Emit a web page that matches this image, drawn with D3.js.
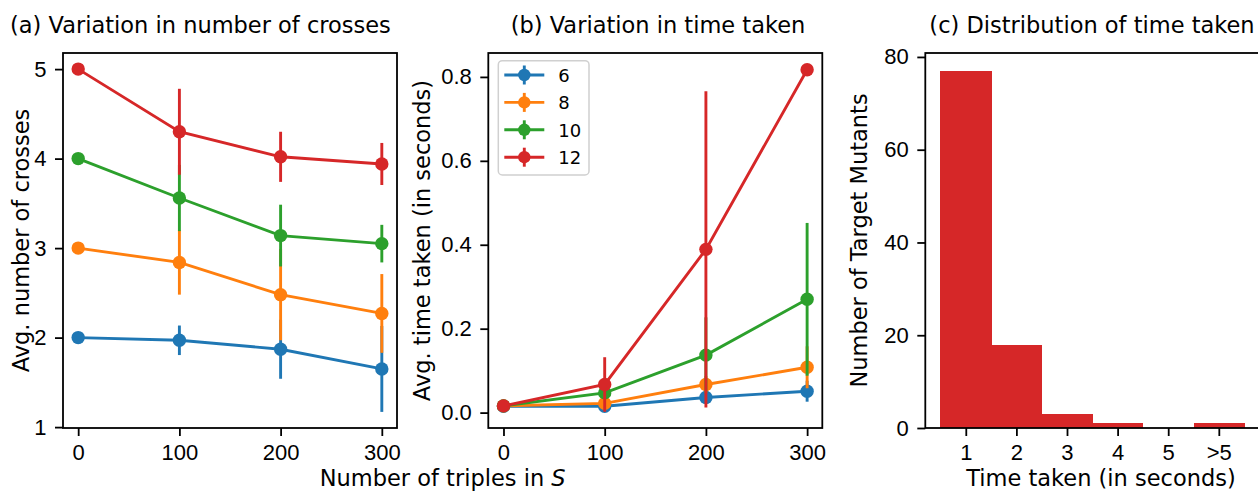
<!DOCTYPE html>
<html>
<head>
<meta charset="utf-8">
<script src="https://cdn.jsdelivr.net/npm/d3@7"></script>
<style>
  body { margin: 0; background: #fff; }
  svg { display: block; font-family: "DejaVu Sans", sans-serif; }
  .axis text { font-size: 22px; fill: #000; }
  .axis line { stroke: #000; stroke-width: 1.8; }
  .axis path { display: none; }
  .title, .label { font-size: 22.5px; fill: #000; }
  .legend text { font-size: 18px; fill: #000; }
</style>
</head>
<body>
<div id="chart"></div>
<script>
const triples = [0, 100, 200, 300];
const sizes = ['6', '8', '10', '12'];
const colors = ['#1f77b4', '#ff7f0e', '#2ca02c', '#d62728'];

// (a) avg number of crosses, one array per size
const crosses6 = [2.0, 1.97, 1.87, 1.65];
const crosses8 = [3.0, 2.84, 2.48, 2.27];
const crosses10 = [4.0, 3.56, 3.14, 3.05];
const crosses12 = [5.0, 4.30, 4.02, 3.94];
const crossesErr6 = [0, 0.165, 0.33, 0.48];
const crossesErr8 = [0, 0.36, 0.51, 0.44];
const crossesErr10 = [0, 0.37, 0.345, 0.21];
const crossesErr12 = [0, 0.48, 0.28, 0.235];

// (b) avg time taken (seconds)
const time6 = [0.015, 0.015, 0.036, 0.051];
const time8 = [0.016, 0.022, 0.067, 0.108];
const time10 = [0.016, 0.047, 0.137, 0.270];
const time12 = [0.016, 0.067, 0.389, 0.817];
const timeErr6 = [0, 0.004, 0.01, 0.025];
const timeErr8 = [0, 0.004, 0.02, 0.05];
const timeErr10 = [0, 0.01, 0.09, 0.182];
const timeErr12 = [0, 0.065, 0.377, 0];

// (c) histogram
const timeBins = ['1', '2', '3', '4', '5', '>5'];
const mutantCounts = [77, 18, 3, 1, 0, 1];

const crossesTicks = [1, 2, 3, 4, 5];
const timeTicks = [0, 0.2, 0.4, 0.6, 0.8];
const countTicks = [0, 20, 40, 60, 80];

const svgWidth = 1258;
const svgHeight = 491;
const plotTop = 53;
const plotBottom = 428;
const panelW = 334;
const lefts = [63, 488.3, 925.3];
const tickLen = 8;
const lw = 2.9;

const svg = d3.select('#chart').append('svg')
  .attr('width', svgWidth)
  .attr('height', svgHeight);

function frame(x0) {
  svg.append('rect')
    .attr('x', x0)
    .attr('y', plotTop)
    .attr('width', panelW)
    .attr('height', plotBottom - plotTop)
    .attr('fill', 'none')
    .attr('stroke', '#000')
    .attr('stroke-width', 1.8);
}

function axes(xScale, yScale, x0, yTicks, yFormat) {
  svg.append('g')
    .attr('class', 'axis')
    .attr('transform', `translate(0, ${plotBottom})`)
    .call(d3.axisBottom(xScale).tickValues(triples).tickSize(tickLen).tickPadding(8));

  svg.append('g')
    .attr('class', 'axis')
    .attr('transform', `translate(${x0}, 0)`)
    .call(d3.axisLeft(yScale).tickValues(yTicks).tickFormat(yFormat).tickSize(tickLen).tickPadding(8.5));
}

function errorLines(xScale, yScale, means, errs) {
  const line = d3.line()
    .x((d, i) => xScale(triples[i]))
    .y((d) => yScale(d));

  means.forEach((vals, s) => {
    const g = svg.append('g');
    g.selectAll('line')
      .data(vals)
      .enter().append('line')
      .attr('x1', (d, i) => xScale(triples[i]))
      .attr('x2', (d, i) => xScale(triples[i]))
      .attr('y1', (d, i) => yScale(d - errs[s][i]))
      .attr('y2', (d, i) => yScale(d + errs[s][i]))
      .attr('stroke', colors[s])
      .attr('stroke-width', lw);

    g.append('path')
      .datum(vals)
      .attr('d', line)
      .attr('fill', 'none')
      .attr('stroke', colors[s])
      .attr('stroke-width', lw);

    g.selectAll('circle')
      .data(vals)
      .enter().append('circle')
      .attr('cx', (d, i) => xScale(triples[i]))
      .attr('cy', (d) => yScale(d))
      .attr('r', 6.7)
      .attr('fill', colors[s]);
  });
}

function yLabel(x, text) {
  svg.append('text')
    .attr('class', 'label')
    .attr('text-anchor', 'middle')
    .attr('transform', `translate(${x}, ${(plotTop + plotBottom) / 2}) rotate(-90)`)
    .text(text);
}

function title(x, anchor, text) {
  svg.append('text')
    .attr('class', 'title')
    .attr('x', x)
    .attr('y', 33)
    .attr('text-anchor', anchor)
    .text(text);
}

// (a)
const xA = d3.scaleLinear().domain([-15, 315]).range([lefts[0], lefts[0] + panelW]);
const yA = d3.scaleLinear().domain([0.99, 5.18]).range([plotBottom, plotTop]);
errorLines(xA, yA,
  [crosses6, crosses8, crosses10, crosses12],
  [crossesErr6, crossesErr8, crossesErr10, crossesErr12]);
axes(xA, yA, lefts[0], crossesTicks, d3.format('d'));
frame(lefts[0]);
yLabel(29.3, 'Avg. number of crosses');
title(10, 'start', '(a) Variation in number of crosses');

// (b)
const xB = d3.scaleLinear().domain([-15, 315]).range([lefts[1], lefts[1] + panelW]);
const yB = d3.scaleLinear().domain([-0.0367, 0.857]).range([plotBottom, plotTop]);
errorLines(xB, yB,
  [time6, time8, time10, time12],
  [timeErr6, timeErr8, timeErr10, timeErr12]);
axes(xB, yB, lefts[1], timeTicks, d3.format('.1f'));
frame(lefts[1]);
yLabel(430, 'Avg. time taken (in seconds)');
title(658, 'middle', '(b) Variation in time taken');

// legend
const legend = svg.append('g').attr('class', 'legend');
legend.append('rect')
  .attr('x', 498.3)
  .attr('y', 60.7)
  .attr('width', 90.7)
  .attr('height', 114.3)
  .attr('rx', 4)
  .attr('fill', '#fff')
  .attr('fill-opacity', 0.8)
  .attr('stroke', '#d0d0d0')
  .attr('stroke-width', 1.5);

sizes.forEach((s, i) => {
  const cy = 75 + i * 27.4;
  const row = legend.append('g');
  row.append('line')
    .attr('x1', 504.3).attr('x2', 544.3)
    .attr('y1', cy).attr('y2', cy)
    .attr('stroke', colors[i]).attr('stroke-width', lw);
  row.append('line')
    .attr('x1', 524.3).attr('x2', 524.3)
    .attr('y1', cy - 9.5).attr('y2', cy + 9.5)
    .attr('stroke', colors[i]).attr('stroke-width', lw);
  row.append('circle')
    .attr('cx', 524.3).attr('cy', cy).attr('r', 6.2)
    .attr('fill', colors[i]);
  row.append('text')
    .attr('x', 558.3)
    .attr('y', cy + 6.7)
    .text(s);
});

// shared x label for (a) and (b)
svg.append('text')
  .attr('class', 'label')
  .attr('x', (lefts[0] + lefts[1] + panelW) / 2)
  .attr('y', 485.5)
  .attr('text-anchor', 'middle')
  .html('Number of triples in <tspan font-style="italic">S</tspan>');

// (c)
const xC = d3.scaleLinear().domain([0.2, 6.8]).range([lefts[2], lefts[2] + panelW]);
const yC = d3.scaleLinear().domain([0, 80.85]).range([plotBottom, plotTop]);

svg.append('g')
  .attr('shape-rendering', 'crispEdges')
  .selectAll('rect')
  .data(mutantCounts)
  .enter().append('rect')
  .attr('x', (d, i) => xC(i + 0.5))
  .attr('y', (d) => yC(d))
  .attr('width', (d, i) => xC(i + 1.5) - xC(i + 0.5) + 0.5)
  .attr('height', (d) => yC(0) - yC(d))
  .attr('fill', '#d62728');

svg.append('g')
  .attr('class', 'axis')
  .attr('transform', `translate(0, ${plotBottom})`)
  .call(d3.axisBottom(xC)
    .tickValues(d3.range(1, timeBins.length + 1))
    .tickFormat((d) => timeBins[d - 1])
    .tickSize(tickLen).tickPadding(8));

svg.append('g')
  .attr('class', 'axis')
  .attr('transform', `translate(${lefts[2]}, 0)`)
  .call(d3.axisLeft(yC).tickValues(countTicks).tickSize(tickLen).tickPadding(8.5));

frame(lefts[2]);
yLabel(866.5, 'Number of Target Mutants');
title(1092, 'middle', '(c) Distribution of time taken');

svg.append('text')
  .attr('class', 'label')
  .attr('x', 1101)
  .attr('y', 485.5)
  .attr('text-anchor', 'middle')
  .text('Time taken (in seconds)');
</script>
</body>
</html>
